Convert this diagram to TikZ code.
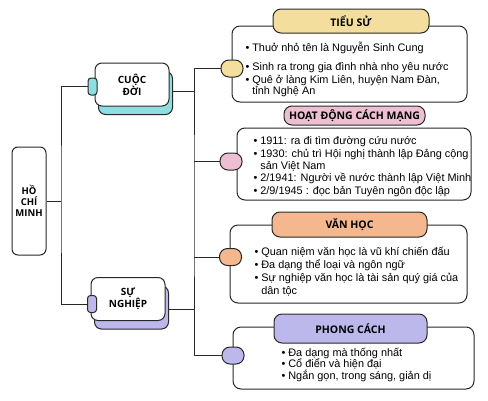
\documentclass[tikz,border=0pt]{standalone}
\usepackage{fontspec}
\setmainfont{Liberation Sans}
\newfontfamily\headfont{Open Sans}
\usetikzlibrary{positioning,shadows}
\definecolor{mycyan}{RGB}{142,221,224}
\definecolor{myyellow}{RGB}{243,222,158}
\definecolor{mypink}{RGB}{238,190,210}
\definecolor{myorange}{RGB}{245,184,142}
\definecolor{mypurple}{RGB}{189,184,236}
\definecolor{myline}{RGB}{40,40,40}

\begin{document}
\begin{tikzpicture}[x=1pt,y=-1pt,line width=1pt,draw=myline,
  rootnode/.style={draw,rounded corners=6pt,minimum width=34pt,minimum height=108pt,
    inner sep=0pt,align=center,font=\headfont\bfseries\fontsize{9.5}{11}\selectfont},
  grpnode/.style={draw,fill=white,rounded corners=7pt,minimum width=74pt,minimum height=43pt,
    inner sep=0pt,align=center,font=\headfont\bfseries\fontsize{10}{12}\selectfont,
    general shadow={fill=#1,draw=myline,shadow xshift=3.5pt,shadow yshift=-8.5pt}},
  gtab/.style={draw,fill=#1,rounded corners=3pt,minimum width=9pt,minimum height=17pt,inner sep=0pt},
  stab/.style={draw,fill=#1,rounded corners=8pt,minimum width=22pt,minimum height=17pt,inner sep=0pt},
  cbox/.style={draw,fill=white,rounded corners=8pt,inner sep=0pt},
  ttl/.style={draw,fill=#1,rounded corners=8pt,inner sep=0pt,
    font=\headfont\bfseries\fontsize{10.5}{12}\selectfont},
  txt/.style={anchor=base west,align=left,inner sep=0pt,font=\fontsize{10.9}{#1}\selectfont}]

  \useasboundingbox (0,0) rectangle (488,400);

  % left side
  \node[rootnode] (hcm) at (29,201) {HỒ\\CHÍ\\MINH};
  \node[grpnode=mycyan] (cd) at (132,84.5) {CUỘC\\ĐỜI};
  \node[gtab=mycyan] (cdtab) at (92.5,86.5) {};
  \node[grpnode=mypurple] (sn) at (128,299) {SỰ\\NGHIỆP};
  \node[gtab=mypurple] (sntab) at (92,304) {};

  \coordinate (spl) at (61,203);
  \coordinate (spr) at (194,200);

  \draw (hcm.east) -- (hcm.east -| spl);
  \draw (cdtab.west) -| (spl) |- (sntab.west);

  % tieu su
  \node[cbox,minimum width=235pt,minimum height=76pt] (tsbox) at (349.5,64) {};
  \node[ttl=myyellow,minimum width=156pt,minimum height=24pt] (tsttl) at (351,21) {TIỂU SỬ};
  \node[stab=myyellow] (tstab) at (232,68.5) {};
  \node[txt=11pt] (tstxt) at (245,94) {\textbullet\ Thuở nhỏ tên là Nguyễn Sinh Cung\\[8pt]
    \textbullet\ Sinh ra trong gia đình nhà nho yêu nước\\[2pt]
    \textbullet\ Quê ở làng Kim Liên, huyện Nam Đàn,\\
    \hphantom{\textbullet\ }tỉnh Nghệ An};

  % hoat dong
  \node[cbox,minimum width=234pt,minimum height=72pt] (hdbox) at (354,164) {};
  \node[ttl=mypink,minimum width=141pt,minimum height=19pt] (hdttl) at (354.5,115.5) {HOẠT ĐỘNG CÁCH MẠNG};
  \node[stab=mypink] (hdtab) at (231,161.5) {};
  \node[txt=12.3pt] (hdtxt) at (253,194) {\textbullet\ 1911: ra đi tìm đường cứu nước\\
    \textbullet\ 1930: chủ trì Hội nghị thành lập Đảng cộng\\
    \hphantom{\textbullet\ }sản Việt Nam\\
    \textbullet\ 2/1941: Người về nước thành lập Việt Minh\\
    \textbullet\ 2/9/1945 : đọc bản Tuyên ngôn độc lập};

  % van hoc
  \node[cbox,minimum width=237pt,minimum height=78pt] (vhbox) at (348.5,264) {};
  \node[ttl=myorange,minimum width=155pt,minimum height=25pt] (vhttl) at (349.5,224.5) {VĂN HỌC};
  \node[stab=myorange] (vhtab) at (230.5,257) {};
  \node[txt=12.7pt] (vhtxt) at (254,294) {\textbullet\ Quan niệm văn học là vũ khí chiến đấu\\
    \textbullet\ Đa dạng thể loại và ngôn ngữ\\
    \textbullet\ Sự nghiệp văn học là tài sản quý giá của\\
    \hphantom{\textbullet\ }dân tộc};

  % phong cach
  \node[cbox,minimum width=241pt,minimum height=62pt] (pcbox) at (353.5,358) {};
  \node[ttl=mypurple,minimum width=153pt,minimum height=29pt] (pcttl) at (350.5,328.5) {PHONG CÁCH};
  \node[stab=mypurple] (pctab) at (233,355.5) {};
  \node[txt=11.5pt] (pctxt) at (281,379) {\textbullet\ Đa dạng mà thống nhất\\
    \textbullet\ Cổ điển và hiện đại\\
    \textbullet\ Ngắn gọn, trong sáng, giản dị};

  % right side connectors
  \coordinate (cdsh) at ([shift={(3.5,6.5)}]cd.east);
  \coordinate (snsh) at ([shift={(2,10)}]sn.east);
  \draw (tstab.west) -| (spr) |- (pctab.west);
  \draw (hdtab.west) -- (hdtab.west -| spr);
  \draw (vhtab.west) -- (vhtab.west -| spr);
  \draw (cdsh) -- (cdsh -| spr);
  \draw (snsh) -- (snsh -| spr);

\end{tikzpicture}
\end{document}
